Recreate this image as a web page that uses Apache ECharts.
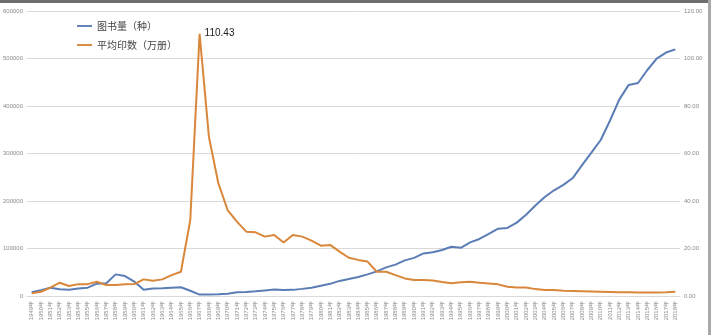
<!DOCTYPE html>
<html><head><meta charset="utf-8">
<script src="https://cdn.jsdelivr.net/npm/echarts@6/dist/echarts.min.js"></script>
<style>html,body{margin:0;padding:0;background:#fff}#c{width:711px;height:335px}</style>
</head><body><div id="c"></div>
<script>
const years = [];
for (let y = 1949; y <= 2018; y++) years.push(y + '年');
const seriesNames = ['图书量（种）', '平均印数（万册）'];
const bookTitles = [8000,12000,17500,14000,13000,16000,17500,26000,27000,45500,
  42000,30500,13000,16000,16500,17500,18500,11000,2900,3000,
  3500,4900,7800,8600,9800,11800,13700,12800,12900,15000,
  17200,21600,25600,31800,35700,40100,45600,51800,60200,66000,
  75000,80200,89600,92100,96800,103800,101400,112800,120100,130600,
  141800,143400,154500,171000,190400,208300,222500,234000,248300,275700,
  301700,328400,369500,414000,444400,448400,475800,499900,512500,519300];
const avgPrint = [1.1,1.8,3.5,5.6,4.2,5.0,5.0,6.0,4.6,4.6,
  4.9,5.0,7.0,6.4,7.0,8.8,10.2,32,110.43,67,
  47.6,36.2,31.3,27.1,26.8,25.0,25.7,22.5,25.7,25.0,
  23.3,21.2,21.5,18.7,16.1,15.2,14.5,10.2,10.2,8.8,
  7.4,6.7,6.7,6.5,5.9,5.4,5.8,6.0,5.6,5.3,
  4.9,3.9,3.6,3.6,2.9,2.5,2.5,2.2,2.1,2.0,
  1.9,1.8,1.7,1.6,1.6,1.5,1.5,1.5,1.6,1.8];
const leftTicks = {min: 0, max: 600000, interval: 100000};
const rightTicks = {min: 0, max: 120, interval: 20};
const colors = ['#5b7db6', '#d9873a'];

const chart = echarts.init(document.getElementById('c'), null, {renderer: 'canvas'});
const axisLabelStyle = {color: '#8a8a8a', fontSize: 6, fontFamily: 'Liberation Sans'};
chart.setOption({
  animation: false,
  backgroundColor: '#ffffff',
  graphic: [
    {type: 'rect', left: 0, top: 0, shape: {width: 711, height: 3}, style: {fill: '#6e6e6e'}},
    {type: 'rect', right: 0, top: 0, shape: {width: 3, height: 335}, style: {fill: '#a8a8a8'}}
  ],
  legend: {
    left: 72, top: 16, orient: 'vertical', itemGap: 9,
    itemWidth: 15, itemHeight: 10,
    textStyle: {fontSize: 10, color: '#444', fontFamily: 'Noto Sans CJK SC'},
    data: seriesNames.map((n, i) => ({name: n, icon: 'path://M0,4 L16,4 L16,6 L0,6 Z',
      itemStyle: {color: colors[i], opacity: 1}}))
  },
  grid: {left: 27, right: 31, top: 11, bottom: 39},
  xAxis: {
    type: 'category', data: years, boundaryGap: true,
    axisLine: {lineStyle: {color: '#d9d9d9'}},
    axisTick: {show: false},
    axisLabel: Object.assign({interval: 0, rotate: 90, margin: 5}, axisLabelStyle)
  },
  yAxis: [
    {type: 'value', min: leftTicks.min, max: leftTicks.max, interval: leftTicks.interval,
     axisLine: {show: false}, axisTick: {show: false},
     splitLine: {lineStyle: {color: '#d9d9d9', width: 1}},
     axisLabel: Object.assign({margin: 4, formatter: v => String(v)}, axisLabelStyle)},
    {type: 'value', min: rightTicks.min, max: rightTicks.max, interval: rightTicks.interval,
     axisLine: {show: false}, axisTick: {show: false}, splitLine: {show: false},
     axisLabel: Object.assign({margin: 4, formatter: v => v.toFixed(2)}, axisLabelStyle)}
  ],
  series: [
    {name: seriesNames[0], type: 'line', yAxisIndex: 0, data: bookTitles,
     showSymbol: false, symbol: 'none', lineStyle: {color: colors[0], width: 2}, itemStyle: {color: colors[0]}},
    {name: seriesNames[1], type: 'line', yAxisIndex: 1, data: avgPrint,
     showSymbol: false, symbol: 'none',
     itemStyle: {color: colors[1]},
     lineStyle: {color: colors[1], width: 2},
     markPoint: {
       symbol: 'circle', symbolSize: 2, silent: true,
       itemStyle: {color: 'rgba(0,0,0,0)'},
       label: {show: true, position: 'right', distance: 4, color: '#222', fontSize: 10,
               fontFamily: 'Liberation Sans', formatter: p => p.value.toFixed(2)},
       data: [{type: 'max'}]
     }}
  ]
});
</script>
</body></html>
